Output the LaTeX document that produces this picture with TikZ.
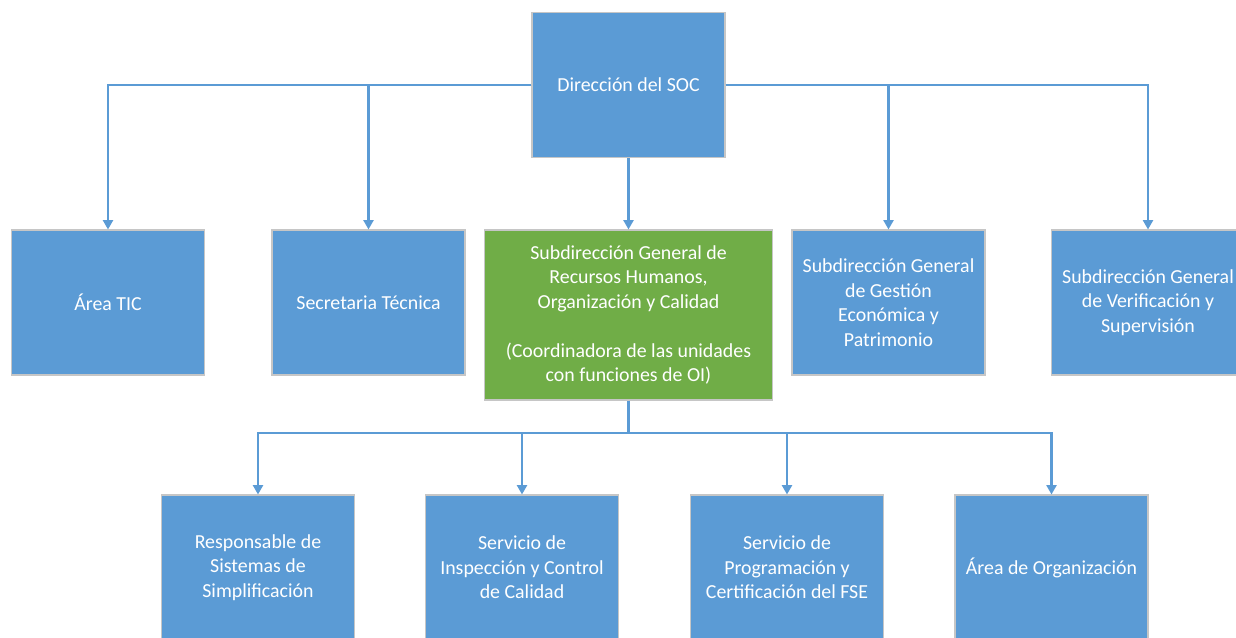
\documentclass[tikz,border=0pt]{standalone}
\usepackage{fontspec}
\setmainfont{Carlito}
\usetikzlibrary{arrows.meta}
\definecolor{boxblue}{HTML}{5B9BD5}
\definecolor{boxgreen}{HTML}{70AD47}
\begin{document}
\begin{tikzpicture}[x=0.75pt,y=-0.75pt]
\tikzstyle{unit}=[draw=gray!45,line width=0.8pt,fill=boxblue,text=white,align=center,
  minimum width=144.75pt,minimum height=108.75pt,font=\fontsize{14.9}{18.4}\selectfont]
\tikzstyle{link}=[draw=boxblue,line width=1.6pt]
\tikzstyle{tip}=[-{Triangle[width=7.5pt,length=7pt]}]
\clip (0,0) rectangle (1236,637);
\path (628.5,85) node[unit](dir){Direcci\'on del SOC}
 (108,302.5) node[unit](tic){\'Area TIC}
 (368.5,302.5) node[unit](sec){Secretaria T\'ecnica}
 (628.5,315) node[unit,fill=boxgreen,minimum width=216pt,minimum height=127.5pt](sub){Subdirecci\'on General de\\Recursos Humanos,\\Organizaci\'on y Calidad\\[18.4pt](Coordinadora de las unidades\\con funciones de OI)}
 (888.5,302.5) node[unit](gest){Subdirecci\'on General\\de Gesti\'on\\Econ\'omica y\\Patrimonio}
 (1148,302.5) node[unit](ver){Subdirecci\'on General\\de Verificaci\'on y\\Supervisi\'on}
 (258,567.5) node[unit](resp){Responsable de\\Sistemas de\\Simplificaci\'on}
 (522,567.5) node[unit](insp){Servicio de\\Inspecci\'on y Control\\de Calidad}
 (787,567.5) node[unit](prog){Servicio de\\Programaci\'on y\\Certificaci\'on del FSE}
 (1051.5,567.5) node[unit](org){\'Area de Organizaci\'on};
\coordinate (bus) at (628.5,433);
% first level
\draw[link,tip] (dir.west) -| (tic.north);
\draw[link,tip] (dir.west) -| (sec.north);
\draw[link,tip] (dir.south) -- (sub.north);
\draw[link,tip] (dir.east) -| (gest.north);
\draw[link,tip] (dir.east) -| (ver.north);
% second level
\draw[link] (sub.south) -- (bus);
\draw[link,tip] (bus) -| (resp.north);
\draw[link,tip] (bus) -| (insp.north);
\draw[link,tip] (bus) -| (prog.north);
\draw[link,tip] (bus) -| (org.north);
\end{tikzpicture}
\end{document}
